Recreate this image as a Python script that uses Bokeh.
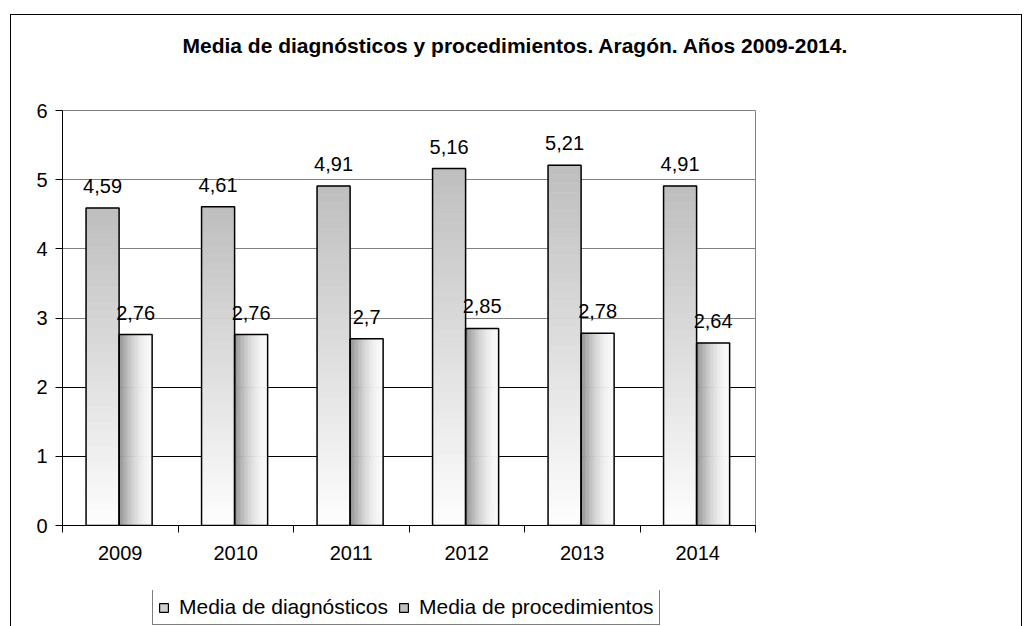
from bokeh.plotting import figure
from bokeh.layouts import column
from bokeh.models import (ColumnDataSource, FixedTicker, Range1d, LabelSet,
                          Legend, LegendItem, Grid, Title)
from bokeh.core.properties import value
from bokeh.embed import file_html
from bokeh.resources import INLINE

# ---------------- data ----------------
years = ["2009", "2010", "2011", "2012", "2013", "2014"]
diag = [4.59, 4.61, 4.91, 5.16, 5.21, 4.91]
proc = [2.76, 2.76, 2.70, 2.85, 2.78, 2.64]
y_ticks = [0, 1, 2, 3, 4, 5, 6]
title_text = "Media de diagnósticos y procedimientos. Aragón. Años 2009-2014."
series_names = ["Media de diagnósticos", "Media de procedimientos"]

# ---------------- style ----------------
FONT = "Liberation Sans"
BAR_W = 0.286
OFF_D = -0.153
OFF_P = 0.133
DIAG_FILL = "#d0d0d0"
PROC_FILL = "#c0c0c0"


def fmt(v):
    return ("%g" % v).replace(".", ",")


def gray(g):
    g = max(0, min(255, int(round(g))))
    return "#%02x%02x%02x" % (g, g, g)


n = len(years)
xc = [i + 0.5 for i in range(n)]
xd = [c + OFF_D for c in xc]
xp = [c + OFF_P for c in xc]

p = figure(width=1032, height=590, x_range=Range1d(0, n), y_range=Range1d(0, 6),
           output_backend="svg", toolbar_location=None,
           min_border_left=62, min_border_right=277, min_border_top=110, min_border_bottom=65)
p.background_fill_color = "white"
p.border_fill_color = "white"
p.border_fill_alpha = 0
p.outline_line_color = "#808080"
p.outline_line_width = 1

# title, with an invisible spacer between it and the frame
p.add_layout(Title(text=" ", text_font_size="1px", standoff=51), "above")
p.add_layout(Title(text=title_text, text_font=FONT, text_font_size="21px",
                   text_font_style="bold", text_color="black", align="left",
                   offset=120, standoff=0, vertical_align="bottom"), "above")

# grid
p.xgrid.visible = False
p.ygrid.ticker = FixedTicker(ticks=[t for t in y_ticks if t >= 3])
p.ygrid.grid_line_color = "#808080"
p.ygrid.grid_line_width = 1
g2 = Grid(dimension=1, ticker=FixedTicker(ticks=[t for t in y_ticks if 0 < t < 3]),
          grid_line_color="black", grid_line_width=1)
p.add_layout(g2)

# vertical gradient for diagnosticos
N = 40
L, R, B, T, C = [], [], [], [], []
for x, v in zip(xd, diag):
    for j in range(N):
        f = (j + 0.5) / N
        L.append(x - BAR_W / 2)
        R.append(x + BAR_W / 2)
        B.append(v * j / N)
        T.append(v * (j + 1) / N)
        C.append(gray(254 - (254 - 190) * f))
p.quad(left=L, right=R, bottom=B, top=T, fill_color=C, line_color=C, line_width=0.6)

# horizontal gradient for procedimientos
M = 24
L, R, B, T, C = [], [], [], [], []
for x, v in zip(xp, proc):
    x0 = x - BAR_W / 2
    for j in range(M):
        t = (j + 0.5) / M
        L.append(x0 + BAR_W * j / M)
        R.append(x0 + BAR_W * (j + 1) / M)
        B.append(0)
        T.append(v)
        C.append(gray(250 - 110 * (1 - t) ** 1.8))
p.quad(left=L, right=R, bottom=B, top=T, fill_color=C, line_color=C, line_width=0.6)

# bar outlines
p.vbar(x=xd, top=diag, width=BAR_W, fill_color=None, line_color="black", line_width=1.5)
p.vbar(x=xp, top=proc, width=BAR_W, fill_color=None, line_color="black", line_width=1.5)

# value labels
lab_src = ColumnDataSource(dict(x=xd + xp, y=diag + proc, t=[fmt(v) for v in diag + proc]))
p.add_layout(LabelSet(x="x", y="y", text="t", source=lab_src, y_offset=22,
                      text_align="center", text_baseline="middle",
                      text_font=value(FONT), text_font_size=value("20px"),
                      text_color="black"))

# axes
p.yaxis.ticker = FixedTicker(ticks=y_ticks)
p.yaxis.major_tick_out = 7
p.yaxis.major_tick_in = 0
p.yaxis.minor_tick_out = 0
p.yaxis.major_label_standoff = 8
p.yaxis.axis_line_color = "black"
p.yaxis.major_tick_line_color = "black"
p.yaxis.major_label_text_font = FONT
p.yaxis.major_label_text_font_size = "20px"
p.yaxis.major_label_text_color = "black"

p.xaxis.ticker = FixedTicker(ticks=xc, minor_ticks=list(range(n + 1)))
p.xaxis.major_label_overrides = {c: y for c, y in zip(xc, years)}
p.xaxis.major_tick_line_color = None
p.xaxis.major_tick_out = 0
p.xaxis.major_tick_in = 0
p.xaxis.minor_tick_out = 7
p.xaxis.minor_tick_in = 0
p.xaxis.minor_tick_line_color = "black"
p.xaxis.major_label_standoff = 13
p.xaxis.axis_line_color = "black"
p.xaxis.major_label_text_font = FONT
p.xaxis.major_label_text_font_size = "20px"
p.xaxis.major_label_text_color = "black"

# ---------------- legend strip ----------------
p2 = figure(width=1032, height=36, x_range=Range1d(100, 101), y_range=Range1d(100, 101),
            output_backend="svg", toolbar_location=None,
            x_axis_location=None, y_axis_location=None, min_border=0)
p2.grid.visible = False
p2.outline_line_color = None
p2.background_fill_alpha = 0
p2.border_fill_alpha = 0
# same series, far outside this strip's visible range: used only for the legend glyphs
leg_d = p2.vbar(x=xd, top=diag, width=BAR_W, fill_color=DIAG_FILL, line_color="black", line_width=1.2)
leg_p = p2.vbar(x=xp, top=proc, width=BAR_W, fill_color=PROC_FILL, line_color="black", line_width=1.2)

legend = Legend(items=[LegendItem(label=series_names[0], renderers=[leg_d]),
                       LegendItem(label=series_names[1], renderers=[leg_p])],
                orientation="horizontal", location=(90, 1))
legend.border_line_color = "black"
legend.border_line_width = 1
legend.background_fill_color = "white"
legend.background_fill_alpha = 1
legend.label_text_font = FONT
legend.label_text_font_size = "21px"
legend.label_text_color = "black"
legend.glyph_width = 11
legend.glyph_height = 11
legend.label_standoff = 10
legend.spacing = 10
legend.padding = 5
legend.margin = 0
p2.add_layout(legend)

layout = column(p, p2, spacing=0, styles={
    "background": ("linear-gradient(#000,#000) 10px 14px / 1px 700px no-repeat, "
                   "linear-gradient(#000,#000) 1021px 14px / 1px 700px no-repeat, "
                   "linear-gradient(#000,#000) 10px 14px / 1012px 1px no-repeat, #ffffff"),
})

open("out.html", "w").write(file_html(layout, INLINE))
